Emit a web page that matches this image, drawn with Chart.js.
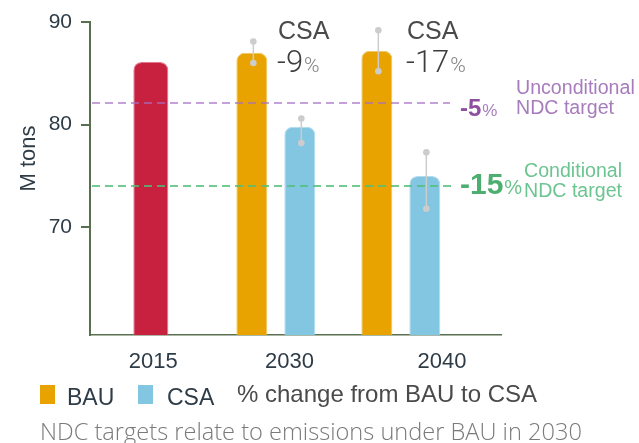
<!DOCTYPE html>
<html><head><meta charset="utf-8">
<script src="https://cdn.jsdelivr.net/npm/chart.js@4"></script>
<style>html,body{margin:0;padding:0;background:#fff}#wrap{position:relative;width:639px;height:443px}</style>
</head><body><div id="wrap"><canvas id="c"></canvas></div>
<script>
// ---- data ----
const categories = ['2015', '2030', '2040'];
const baseValues = [86.1, null, null];
const bauValues = [null, 87.0, 87.2];
const csaValues = [null, 79.8, 75.0];
const bauErrLow = [null, 86.0, 85.2];
const bauErrHigh = [null, 88.1, 89.2];
const csaErrLow = [null, 78.2, 71.8];
const csaErrHigh = [null, 80.6, 77.3];
const yTicks = [70, 80, 90];
const csaChange = [null, '-9', '-17'];
const unconditionalTarget = 82.1;
const unconditionalChange = '-5';
const conditionalTarget = 74.0;
const conditionalChange = '-15';

// ---- styles ----
const AXIS = '#5a6e50';
const DARK = '#2e3c48';
const GREY = '#4a4a4a';
const SANS = '"Liberation Sans", Arial, sans-serif';
const labelShift = [0.02, 0.11, 0.33];

const toPts = arr => arr.map((v, i) => ({x: i, y: v}));

const annot = {
  id: 'annot',
  afterDatasetsDraw(chart) {
    const ctx = chart.ctx, ys = chart.scales.y, ca = chart.chartArea;
    ctx.save();
    // target lines
    ctx.lineWidth = 2;
    ctx.setLineDash([8, 5]);
    [[unconditionalTarget, 'rgba(165,110,195,0.65)', 450], [conditionalTarget, 'rgba(80,190,120,0.8)', 453]].forEach(([v, c, end]) => {
      const py = Math.round(ys.getPixelForValue(v));
      ctx.strokeStyle = c;
      ctx.beginPath(); ctx.moveTo(ca.left + 2, py); ctx.lineTo(end, py); ctx.stroke();
    });
    ctx.setLineDash([]);
    // error bars
    const drawErr = (dsIndex, lo, hi) => {
      const meta = chart.getDatasetMeta(dsIndex);
      meta.data.forEach((bar, i) => {
        if (lo[i] == null) return;
        const px = bar.x + 1.5;
        const y1 = ys.getPixelForValue(hi[i]), y2 = ys.getPixelForValue(lo[i]);
        ctx.strokeStyle = '#cccccc'; ctx.fillStyle = '#cccccc'; ctx.lineWidth = 1.5;
        ctx.beginPath(); ctx.moveTo(px, y1); ctx.lineTo(px, y2); ctx.stroke();
        ctx.beginPath(); ctx.arc(px, y1, 3.3, 0, Math.PI * 2); ctx.fill();
        ctx.beginPath(); ctx.arc(px, y2, 3.3, 0, Math.PI * 2); ctx.fill();
      });
    };
    drawErr(1, bauErrLow, bauErrHigh);
    drawErr(2, csaErrLow, csaErrHigh);
    ctx.restore();
  },
  afterDraw(chart) {
    const ctx = chart.ctx;
    ctx.save();
    ctx.textBaseline = 'alphabetic';
    ctx.textAlign = 'left';
    const txt = (s, x, y, font, color) => { ctx.font = font; ctx.fillStyle = color; ctx.fillText(s, x, y); return x + ctx.measureText(s).width; };
    // y title
    ctx.save();
    ctx.translate(35, 158.5); ctx.rotate(-Math.PI / 2);
    ctx.textAlign = 'center';
    txt('M tons', 0, 0, '22px ' + SANS, DARK);
    ctx.restore();
    // CSA change annotations
    const csaPos = [null, [277, 39], [406, 39]];
    csaChange.forEach((c, i) => {
      if (c == null) return;
      const [x, y] = csaPos[i];
      txt('CSA', x + 1, y, '25px ' + SANS, GREY);
      const e = txt(c, x, y + 33, '300 31px Roboto, ' + SANS, '#3e3e3e');
      txt('%', e + 1, y + 33, '300 21px Roboto, ' + SANS, '#808080');
    });
    // targets
    let e = txt(unconditionalChange, 460, 116, 'bold 24px ' + SANS, '#8e4f9f');
    txt('%', e + 1, 116, '17px ' + SANS, '#a77fbf');
    txt('Unconditional', 516, 94, '19.6px ' + SANS, '#a67cbc');
    txt('NDC target', 516, 114, '19.6px ' + SANS, '#a67cbc');
    e = txt(conditionalChange, 460, 194, 'bold 30px ' + SANS, '#4eae70');
    txt('%', e + 1, 194, '20px ' + SANS, '#6cc28c');
    txt('Conditional', 524, 177, '19.6px ' + SANS, '#6cc490');
    txt('NDC target', 524, 197, '19.6px ' + SANS, '#6cc490');
    // legend
    ctx.fillStyle = '#e8a300'; ctx.fillRect(40, 385, 15, 19);
    txt('BAU', 67, 405, '23px ' + SANS, DARK);
    ctx.fillStyle = '#82c6e2'; ctx.fillRect(138, 385, 15, 19);
    txt('CSA', 167, 405, '23px ' + SANS, DARK);
    txt('% change from BAU to CSA', 237, 402, '24px ' + SANS, GREY);
    // caption
    txt('NDC targets relate to emissions under BAU in 2030', 40, 440, '300 23.6px "Open Sans", sans-serif', '#7a7a7a');
    ctx.restore();
  }
};

new Chart(document.getElementById('c'), {
  type: 'bar',
  data: {
    datasets: [
      {label: '2015', data: toPts(baseValues), backgroundColor: '#c8203f', borderColor: '#e07890', barPercentage: 0.365},
      {label: 'BAU', data: toPts(bauValues), backgroundColor: '#e8a300', borderColor: '#f0c860', barPercentage: 0.646},
      {label: 'CSA', data: toPts(csaValues), backgroundColor: '#82c6e2', borderColor: '#b0dcef', barPercentage: 0.646}
    ]
  },
  options: {
    responsive: true,
    maintainAspectRatio: false,
    animation: false,
    layout: {padding: {left: 0, right: 138, top: 22, bottom: 0}},
    datasets: {bar: {skipNull: true, categoryPercentage: 0.768, borderWidth: 1, borderSkipped: 'bottom',
      borderRadius: {topLeft: 8, topRight: 8, bottomLeft: 0, bottomRight: 0}}},
    plugins: {legend: {display: false}, tooltip: {enabled: false}},
    scales: {
      x: {
        type: 'linear', min: -0.4867, max: 2.8013, offset: false,
        afterBuildTicks: s => { s.ticks = categories.map((c, i) => ({value: i + labelShift[i]})); },
        afterFit: s => { s.height = 108; },
        grid: {display: false, offset: false},
        border: {display: true, color: AXIS, width: 1.5},
        ticks: {padding: 6, color: DARK, font: {family: SANS, size: 22}, maxRotation: 0, autoSkip: false,
          callback: (v, i) => categories[i]}
      },
      y: {
        min: 59.5, max: 90,
        afterBuildTicks: s => { s.ticks = yTicks.map(v => ({value: v})); },
        afterFit: s => { s.width = 90; },
        grid: {display: true, drawOnChartArea: false, drawTicks: true, tickLength: 9, color: AXIS, lineWidth: 2},
        border: {display: true, color: AXIS, width: 2},
        ticks: {padding: 9, color: DARK, font: {family: SANS, size: 21}}
      }
    }
  },
  plugins: [annot]
});
</script>
</body></html>
